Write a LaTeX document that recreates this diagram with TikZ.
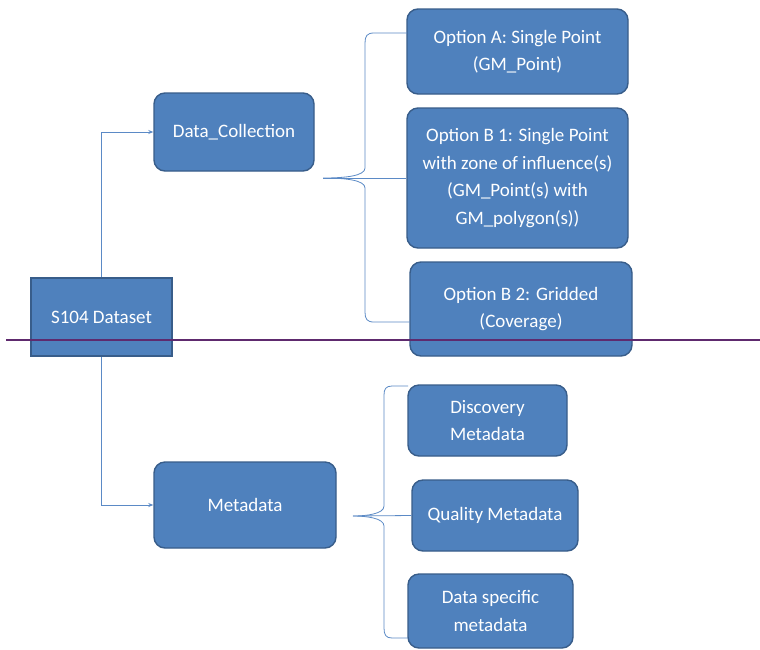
\documentclass[tikz,border=0pt]{standalone}
\usepackage{fontspec}
\setmainfont{Carlito}
\usetikzlibrary{arrows.meta}
\definecolor{boxfill}{HTML}{4F81BD}
\definecolor{boxline}{HTML}{385D8A}
\definecolor{conn}{HTML}{5B8AC6}
\definecolor{purp}{HTML}{5E2A6E}
\tikzset{
  rbox/.style={draw=boxline, line width=1.4pt, fill=boxfill, rounded corners=11pt,
    text=white, align=center, inner sep=0pt, font=\fontsize{19}{27.5}\selectfont},
  sbox/.style={rbox, rounded corners=0pt},
  conline/.style={draw=conn, line width=0.8pt},
  arr/.style={conline, -{Stealth[length=5pt,width=4pt]}},
  sep/.style={draw=purp, line width=1.4pt}
}
\begin{document}
\begin{tikzpicture}[x=1pt,y=-1pt]
\clip (0,0) rectangle (760,649);
\fill[white] (0,0) rectangle (760,649);
% nodes
\node[sbox, minimum width=141pt, minimum height=78pt] (s104) at (101.5,317) {S104 Dataset};
\node[rbox, minimum width=160pt, minimum height=78pt] (dc) at (234,132) {Data\_Collection};
\node[rbox, minimum width=182pt, minimum height=86pt] (md) at (245,505) {Metadata};
\node[rbox, minimum width=221pt, minimum height=85pt] (oa) at (517.5,51.5) {Option A: Single Point\\(GM\_Point)};
\node[rbox, minimum width=221pt, minimum height=140pt] (ob1) at (517.5,178) {Option B 1: Single Point\\with zone of influence(s)\\(GM\_Point(s) with\\GM\_polygon(s))};
\node[rbox, minimum width=222pt, minimum height=94pt] (ob2) at (521,309) {Option B 2: Gridded\\(Coverage)};
\node[rbox, minimum width=159pt, minimum height=71pt] (dm) at (487.5,420.5) {Discovery\\Metadata};
\node[rbox, minimum width=166pt, minimum height=71pt] (qm) at (495,515.5) {Quality Metadata};
\node[rbox, minimum width=165pt, minimum height=74pt] (ds) at (490.5,611) {Data specific\\metadata};
% connectors from root
\draw[arr] (s104.north) |- (dc.west);
\draw[arr] (s104.south) |- (md.west);
% brace 1
\coordinate (t1) at (323,178);
\coordinate (a1) at (407,33);
\coordinate (b1) at (410,322);
\draw[conline] (a1) -- (374,33) .. controls (367,33) and (365,36) .. (365,43) -- (365,168)
  .. controls (365,176) and (345,178) .. (t1)
  .. controls (345,178) and (365,180) .. (365,188) -- (365,312)
  .. controls (365,319) and (367,322) .. (374,322) -- (b1);
\draw[conline] (t1) -- (ob1.west);
% brace 2
\coordinate (t2) at (353,516);
\coordinate (a2) at (408,386);
\coordinate (b2) at (408,638);
\draw[conline] (a2) -- (392,386) .. controls (386,386) and (384,389) .. (384,395) -- (384,506)
  .. controls (384,514) and (366,516) .. (t2)
  .. controls (366,516) and (384,518) .. (384,526) -- (384,628)
  .. controls (384,635) and (386,638) .. (392,638) -- (b2);
\draw[conline] (t2) -- (qm.west);
% separator line
\coordinate (l1) at (6,340);
\coordinate (l2) at (760,340);
\draw[sep] (l1) -- (l2);
\end{tikzpicture}
\end{document}
